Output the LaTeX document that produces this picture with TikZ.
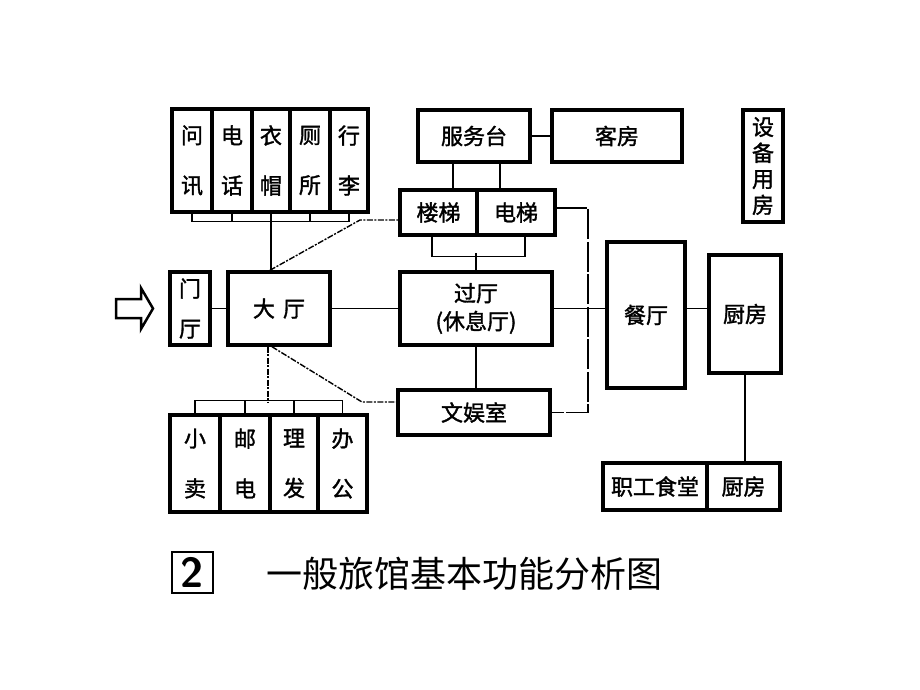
\documentclass[tikz,border=0pt]{standalone}
\usepackage{fontspec}
\newfontfamily\cjk{Noto Sans CJK SC}
\newfontfamily\cjkb[FakeBold=1.5]{Noto Sans CJK SC}
\begin{document}
\begin{tikzpicture}[x=1pt,y=-1pt,
 box/.style={draw, line width=3.5pt, inner sep=0pt, align=center, font=\cjkb\fontsize{22}{26}\selectfont},
 conn/.style={line width=1.4pt},
 dconn/.style={line width=1.4pt, dash pattern=on 6pt off 1.5pt on 2pt off 1.5pt},
 lconn/.style={line width=1.4pt, dash pattern=on 30pt off 2.5pt},
 vt/.style={font=\cjkb\fontsize{22}{50}\selectfont},
]
\useasboundingbox[fill=white] (0,0) rectangle (920,690);
% top group
\node[box, vt, minimum width=40pt, minimum height=103pt] (c1) at (192,160.5) {问\\讯};
\node[box, vt, minimum width=40pt, minimum height=103pt] (c2) at (232,160.5) {电\\话};
\node[box, vt, minimum width=38pt, minimum height=103pt] (c3) at (271,160.5) {衣\\帽};
\node[box, vt, minimum width=40pt, minimum height=103pt] (c4) at (310,160.5) {厕\\所};
\node[box, vt, minimum width=38pt, minimum height=103pt] (c5) at (349,160.5) {行\\李};
% main row
\node[box, font=\cjkb\fontsize{22}{40}\selectfont, minimum width=40pt, minimum height=73pt] (menting) at (190,308.5) {门\\厅};
\node[box, minimum width=102pt, minimum height=73pt] (dating) at (279,308.5) {大\hspace{8pt}厅};
\node[box, font=\cjkb\fontsize{22}{28}\selectfont, minimum width=152pt, minimum height=73pt] (guoting) at (476,308.5) {过厅\\(休息厅)};
\node[box, minimum width=77pt, minimum height=45pt] (louti) at (438.5,212.5) {楼梯};
\node[box, minimum width=78pt, minimum height=45pt] (dianti) at (516,212.5) {电梯};
\node[box, minimum width=112pt, minimum height=52pt] (fuwu) at (474,136) {服务台};
\node[box, minimum width=130pt, minimum height=52pt] (kefang) at (617,136) {客房};
\node[box, minimum width=40pt, minimum height=112pt] (shebei) at (763,166) {设\\备\\用\\房};
\node[box, minimum width=78pt, minimum height=146pt] (canting) at (646,315) {餐厅};
\node[box, minimum width=72pt, minimum height=118pt] (chufang) at (745,314) {厨房};
\node[box, minimum width=104pt, minimum height=47pt] (zhigong) at (655,486.5) {职工食堂};
\node[box, minimum width=73pt, minimum height=47pt] (chufang2) at (743.5,486.5) {厨房};
\node[box, minimum width=152pt, minimum height=45pt] (wenyu) at (474,412.5) {文娱室};
% bottom group
\node[box, vt, minimum width=50pt, minimum height=97pt] (b1) at (195,463.5) {小\\卖};
\node[box, vt, minimum width=50pt, minimum height=97pt] (b2) at (245,463.5) {邮\\电};
\node[box, vt, minimum width=48pt, minimum height=97pt] (b3) at (294,463.5) {理\\发};
\node[box, vt, minimum width=49pt, minimum height=97pt] (b4) at (342.5,463.5) {办\\公};
% entrance arrow
\draw[line width=2.5pt, line join=miter] (116,299) -- (141,299) -- (141,288) -- (153,308.5) -- (141,329) -- (141,318) -- (116,318) -- cycle;
% top comb
\draw[conn] (c1.south) -- ++(0,8) -| (c5.south);
\foreach \c in {c2,c3,c4} \draw[conn] (\c.south) -- ++(0,8);
\draw[conn] (c3.south) -- (c3.south |- dating.north);
% bottom comb
\draw[conn] (b1.north) -- ++(0,-13) -| (b4.north);
\foreach \c in {b2,b3} \draw[conn] (\c.north) -- ++(0,-13);
\coordinate (dj) at (268,402);
\draw[dconn] (dj |- dating.south) -- (dj);
% main row links
\draw[conn] (menting.east) -- (dating.west);
\draw[conn] (dating.east) -- (guoting.west);
\draw[conn] (guoting.east) -- (guoting.east -| canting.west);
\draw[conn] (canting.east |- guoting.east) -- (chufang.west |- guoting.east);
\draw[conn] (guoting.south) -- (guoting.south |- wenyu.north);
\draw[conn] (chufang.south) -- (chufang.south |- chufang2.north);
% diagonals
\coordinate (k1) at (360,220);
\draw[dconn] ([xshift=-9pt]dating.north) -- (k1) -- (k1 -| louti.west);
\coordinate (k2) at (362,402);
\draw[dconn] ([xshift=-7pt]dating.south) -- (k2) -- (k2 -| wenyu.west);
% service desk links
\draw[conn] (fuwu.east) -- (kefang.west);
\draw[conn] ([xshift=14.5pt]louti.north) -- ([xshift=14.5pt]louti.north |- fuwu.south);
\draw[conn] ([xshift=-16pt]dianti.north) -- ([xshift=-16pt]dianti.north |- fuwu.south);
\draw[conn] ([xshift=-6.5pt]louti.south) -- ++(0,20) -| ([xshift=9pt]dianti.south);
\draw[conn] (guoting.north) -- ++(0,-17);
% right loop
\coordinate (k3) at (588,208);
\draw[lconn] (k3 -| dianti.east) -- (k3) -- (k3 |- wenyu.east) -- (wenyu.east);
% caption
\node[draw, line width=2.5pt, minimum size=41pt, inner sep=0pt, font=\sffamily\bfseries\fontsize{42}{42}\selectfont] (num) at (192.5,572.5) {2};
\node[font=\cjk\fontsize{36}{36}\selectfont] (cap) at (464,574) {一般旅馆基本功能分析图};
\end{tikzpicture}
\end{document}
